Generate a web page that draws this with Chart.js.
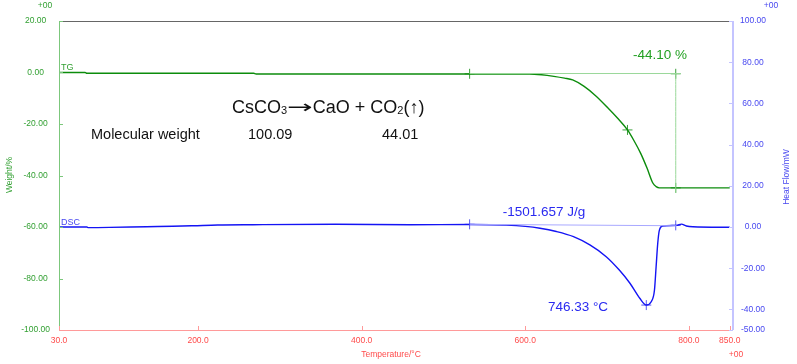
<!DOCTYPE html>
<html>
<head>
<meta charset="utf-8">
<script src="https://cdn.jsdelivr.net/npm/chart.js@4.4.0/dist/chart.umd.min.js"></script>
<style>
html, body { margin: 0; padding: 0; background: #fff; }
</style>
</head>
<body>
<canvas id="tga" width="797" height="364"></canvas>
<script>
// TG curve (weight %, left axis)
const tgTemp   = [30, 62, 64, 268, 271, 605, 620, 635, 648, 658, 672, 686, 700, 713, 725, 733, 741, 749, 756, 760, 764, 850];
const tgWeight = [0.0, 0.0, -0.3, -0.3, -0.6, -0.6, -0.9, -1.5, -2.2, -2.9, -5.4, -9.0, -13.4, -17.8, -22.3, -26.5, -31.3, -37.2, -42.9, -44.3, -44.8, -44.8];

// DSC curve (heat flow mW, right axis)
const dscTemp = [30, 64, 66, 92, 137, 169, 194, 224, 267, 368, 459, 532, 577, 600, 618, 638, 659, 679, 699, 715, 728, 740, 748, 754, 758, 760, 762, 764, 768, 785, 791, 797, 805, 838, 850];
const dscFlow = [0.0, 0.0, -0.3, -0.2, 0.15, 0.35, 0.6, 0.95, 1.1, 1.3, 1.1, 1.2, 0.9, 0.3, -0.6, -2.2, -4.7, -8.7, -14.4, -20.9, -27.3, -34.6, -37.9, -36.3, -30.6, -19.3, -7.9, -1.5, 0.5, 0.8, 1.4, 0.5, 0.1, -0.1, -0.1];

// analysis lines and markers
const tgStepTemp   = [532, 790];
const tgStepWeight = [-0.4, -0.4];
const tgDropTemp   = [784, 784];
const tgDropWeight = [-0.4, -46.8];
const tgMarkTemp   = [532, 725, 784, 784];
const tgMarkWeight = [-0.5, -22.3, -0.5, -44.8];

const dscBaseTemp = [532, 785];
const dscBaseFlow = [1.3, 0.6];
const dscMarkTemp = [532, 748, 784];
const dscMarkFlow = [1.3, -37.9, 0.8];

// tick labels
const xTicks = [30, 200, 400, 600, 800, 850];
const wTicks = [20, 0, -20, -40, -60, -80, -100];
const hTicks = [100, 80, 60, 40, 20, 0, -20, -40, -50];

const GREEN = "#33a033";
const BLUE = "#4848f0";
const RED = "#ff4a4a";
const FONT = '"Liberation Sans", Arial, sans-serif';

Chart.defaults.font.family = FONT;

function pts(xs, ys) {
    return xs.map((x, i) => ({ x: x, y: ys[i] }));
}

function line(label, xs, ys, axis, color, width) {
    return {
        label: label,
        data: pts(xs, ys),
        yAxisID: axis,
        borderColor: color,
        borderWidth: width,
        pointRadius: 0,
        cubicInterpolationMode: "monotone",
        fill: false
    };
}

function marks(label, xs, ys, axis, color) {
    return {
        label: label,
        data: pts(xs, ys),
        yAxisID: axis,
        showLine: false,
        pointStyle: "cross",
        pointRadius: 5,
        pointBorderWidth: 1,
        pointBorderColor: color,
        borderColor: color
    };
}

// text pieces drawn one after another: [text, font, baseline shift, x stretch]
function drawRun(ctx, x, y, parts) {
    parts.forEach(p => {
        const k = p[3] || 1;
        ctx.font = p[1];
        ctx.save();
        ctx.translate(x, y + p[2]);
        ctx.scale(k, 1);
        ctx.fillText(p[0], 0, 0);
        ctx.restore();
        x += ctx.measureText(p[0]).width * k;
    });
}

// frame, inner tick marks and texts
const decor = {
    id: "decor",
    afterDraw(chart) {
        const ctx = chart.ctx;
        const a = chart.chartArea;
        const sx = chart.scales.x, sw = chart.scales.yW, sh = chart.scales.yH;

        ctx.save();
        ctx.lineWidth = 1;

        // top border
        ctx.strokeStyle = "#666";
        ctx.beginPath(); ctx.moveTo(a.left, a.top + 0.5); ctx.lineTo(a.right, a.top + 0.5); ctx.stroke();

        // left axis
        ctx.strokeStyle = "#7cc77c";
        ctx.beginPath(); ctx.moveTo(a.left + 0.5, a.top); ctx.lineTo(a.left + 0.5, a.bottom); ctx.stroke();
        wTicks.forEach(v => {
            const y = Math.round(sw.getPixelForValue(v)) + 0.5;
            ctx.beginPath(); ctx.moveTo(a.left, y); ctx.lineTo(a.left + 4, y); ctx.stroke();
        });

        // bottom axis
        ctx.strokeStyle = "#ff9a9a";
        ctx.beginPath(); ctx.moveTo(a.left, a.bottom + 0.5); ctx.lineTo(a.right, a.bottom + 0.5); ctx.stroke();
        xTicks.forEach(v => {
            const x = Math.round(sx.getPixelForValue(v)) + 0.5;
            ctx.beginPath(); ctx.moveTo(x, a.bottom); ctx.lineTo(x, a.bottom - 4); ctx.stroke();
        });

        // right axis
        ctx.strokeStyle = "#c4c4ff";
        ctx.lineWidth = 2;
        ctx.beginPath(); ctx.moveTo(a.right, a.top); ctx.lineTo(a.right, a.bottom); ctx.stroke();
        ctx.lineWidth = 1;
        hTicks.forEach(v => {
            const y = Math.round(sh.getPixelForValue(v)) + 0.5;
            ctx.beginPath(); ctx.moveTo(a.right - 4, y); ctx.lineTo(a.right, y); ctx.stroke();
        });

        // exponent marks
        ctx.font = "8.5px " + FONT;
        ctx.textBaseline = "middle";
        ctx.textAlign = "center";
        ctx.fillStyle = GREEN; ctx.fillText("+00", 45, 6);
        ctx.fillStyle = BLUE;  ctx.fillText("+00", 771, 6);
        ctx.fillStyle = RED;   ctx.fillText("+00", 736, 355);

        // axis titles
        ctx.fillStyle = RED;
        ctx.fillText("Temperature/°C", 391, 355);
        ctx.save();
        ctx.translate(10, 175); ctx.rotate(-Math.PI / 2);
        ctx.fillStyle = GREEN; ctx.fillText("Weight/%", 0, 0);
        ctx.restore();
        ctx.save();
        ctx.translate(787, 177); ctx.rotate(-Math.PI / 2);
        ctx.fillStyle = BLUE; ctx.fillText("Heat Flow/mW", 0, 0);
        ctx.restore();

        // curve names
        ctx.textAlign = "left";
        ctx.font = "9px " + FONT;
        ctx.fillStyle = GREEN; ctx.fillText("TG", 61, 68);
        ctx.fillStyle = BLUE;  ctx.fillText("DSC", 61, 222.5);

        // results
        ctx.textAlign = "center";
        ctx.font = "13.5px " + FONT;
        ctx.fillStyle = "#22a022";
        ctx.fillText("-44.10 %", 660, 55);
        ctx.fillStyle = "#2a2af0";
        ctx.fillText("-1501.657 J/g", 544, 212);
        ctx.fillText("746.33 °C", 578, 307);

        // reaction text
        ctx.fillStyle = "#111";
        ctx.textAlign = "left";
        ctx.textBaseline = "alphabetic";
        const big = "18px " + FONT;
        const sub = "11px " + FONT;
        const arrow = '18px "DejaVu Sans", sans-serif';
        drawRun(ctx, 232, 113, [
            ["CsCO", big, 0],
            ["3", sub, 1],
            ["→", arrow, 0, 1.7],
            ["CaO + CO", big, 0],
            ["2", sub, 1],
            ["(↑)", big, 0]
        ]);
        ctx.textBaseline = "middle";
        ctx.font = "14.5px " + FONT;
        ctx.fillText("Molecular weight", 91, 135);
        ctx.fillText("100.09", 248, 135);
        ctx.fillText("44.01", 382, 135);

        ctx.restore();
    }
};

new Chart(document.getElementById("tga"), {
    type: "line",
    data: {
        datasets: [
            line("TG step", tgStepTemp, tgStepWeight, "yW", "#9ad89a", 1),
            line("TG drop", tgDropTemp, tgDropWeight, "yW", "#9ad89a", 1),
            line("DSC base", dscBaseTemp, dscBaseFlow, "yH", "#a8a8ff", 1),
            line("TG", tgTemp, tgWeight, "yW", "#0c8c0c", 1.4),
            line("DSC", dscTemp, dscFlow, "yH", "#1414f4", 1.4),
            marks("TG marks", tgMarkTemp, tgMarkWeight, "yW", "#3aa03a"),
            marks("DSC marks", dscMarkTemp, dscMarkFlow, "yH", "#5a5af0")
        ]
    },
    options: {
        responsive: false,
        animation: false,
        layout: { padding: { top: 21, left: 0, right: 0, bottom: 0 } },
        plugins: { legend: { display: false }, tooltip: { enabled: false } },
        scales: {
            x: {
                type: "linear",
                min: 30,
                max: 854,
                afterBuildTicks: s => { s.ticks = xTicks.map(v => ({ value: v })); },
                afterFit: s => { s.height = 34; },
                grid: { display: false, drawTicks: false },
                border: { display: false },
                ticks: {
                    color: RED,
                    font: { size: 8.5 },
                    padding: 6,
                    autoSkip: false,
                    maxRotation: 0,
                    callback: v => Number(v).toFixed(1)
                }
            },
            yW: {
                type: "linear",
                position: "left",
                min: -100,
                max: 20,
                afterBuildTicks: s => { s.ticks = wTicks.map(v => ({ value: v })); },
                afterFit: s => { s.width = 59; },
                grid: { display: false, drawTicks: false },
                border: { display: false },
                ticks: {
                    color: GREEN,
                    font: { size: 8.5 },
                    padding: 9,
                    crossAlign: "center",
                    callback: v => Number(v).toFixed(2)
                }
            },
            yH: {
                type: "linear",
                position: "right",
                min: -50,
                max: 100,
                afterBuildTicks: s => { s.ticks = hTicks.map(v => ({ value: v })); },
                afterFit: s => { s.width = 64; },
                grid: { display: false, drawTicks: false },
                border: { display: false },
                ticks: {
                    color: BLUE,
                    font: { size: 8.5 },
                    padding: 7,
                    crossAlign: "center",
                    callback: v => Number(v).toFixed(2)
                }
            }
        }
    },
    plugins: [decor]
});
</script>
</body>
</html>
